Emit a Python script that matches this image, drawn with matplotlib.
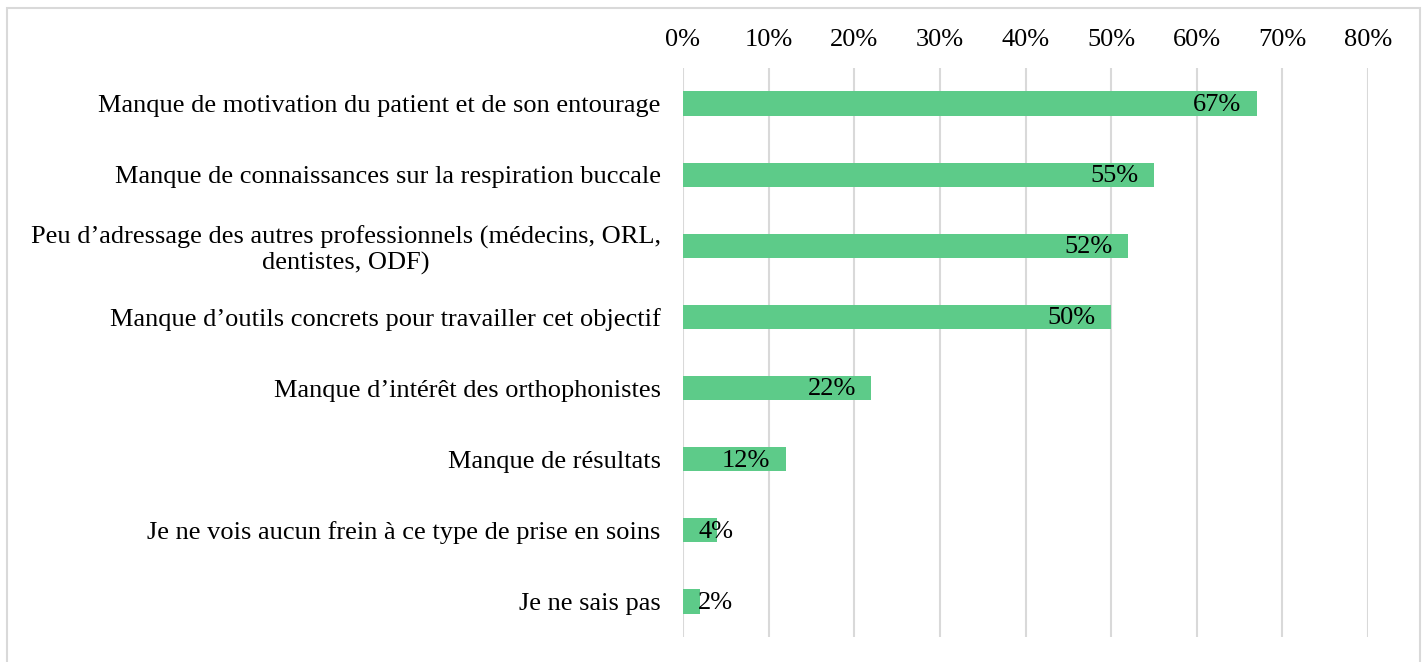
import matplotlib
matplotlib.use("Agg")
import matplotlib.pyplot as plt
from matplotlib.patches import Rectangle
from matplotlib.ticker import FuncFormatter

categories = [
    "Manque de motivation du patient et de son entourage",
    "Manque de connaissances sur la respiration buccale",
    "Peu d\u2019adressage des autres professionnels (médecins, ORL,\ndentistes, ODF)",
    "Manque d\u2019outils concrets pour travailler cet objectif",
    "Manque d\u2019intérêt des orthophonistes",
    "Manque de résultats",
    "Je ne vois aucun frein à ce type de prise en soins",
    "Je ne sais pas",
]
values = [0.67, 0.55, 0.52, 0.50, 0.22, 0.12, 0.04, 0.02]
value_labels = ["67%", "55%", "52%", "50%", "22%", "12%", "4%", "2%"]
xticks = [0, 0.1, 0.2, 0.3, 0.4, 0.5, 0.6, 0.7, 0.8]

plt.rcParams["font.family"] = ["Liberation Serif", "DejaVu Serif"]
FS = 19

fig = plt.figure(figsize=(14.24, 6.62), dpi=100)
ax = fig.add_axes([683/1424, 1-637/662, (1368-683)/1424, (637-68)/662])

y = list(range(len(categories)))
ax.barh(y, values, height=0.34, color="#5DCB89", zorder=2)
ax.set_ylim(len(categories)-0.5, -0.5)
ax.set_xlim(0, 0.8)
ax.set_xticks(xticks)
ax.xaxis.set_major_formatter(FuncFormatter(lambda v, p: f"{v*100:.0f}%"))
ax.xaxis.tick_top()
ax.tick_params(axis="x", length=0, pad=12, labelsize=FS)
ax.tick_params(axis="y", length=0, pad=16, labelsize=FS)
ax.set_yticks(y)
ax.set_yticklabels(categories)
for t in ax.get_yticklabels():
    t.set_multialignment("center")
    t.set_linespacing(1.2)

for s in ax.spines.values():
    s.set_visible(False)
ax.grid(axis="x", color="#d9d9d9", linewidth=1.5, zorder=0)
ax.set_axisbelow(True)

for yi, v, lab in zip(y, values, value_labels):
    if v >= 0.08:
        ax.annotate(lab, (v, yi), xytext=(-11, -1), textcoords="offset points",
                    ha="right", va="center", fontsize=FS, zorder=3)
    else:
        ax.annotate(lab, (0, yi), xytext=(11, -1), textcoords="offset points",
                    ha="left", va="center", fontsize=FS, zorder=3)

fig.patches.append(Rectangle((7/1424, -0.05), (1420-7)/1424, 1.05-8/662,
                             transform=fig.transFigure, fill=False,
                             edgecolor="#d9d9d9", linewidth=1.5))

fig.savefig("out.png", dpi=100)
